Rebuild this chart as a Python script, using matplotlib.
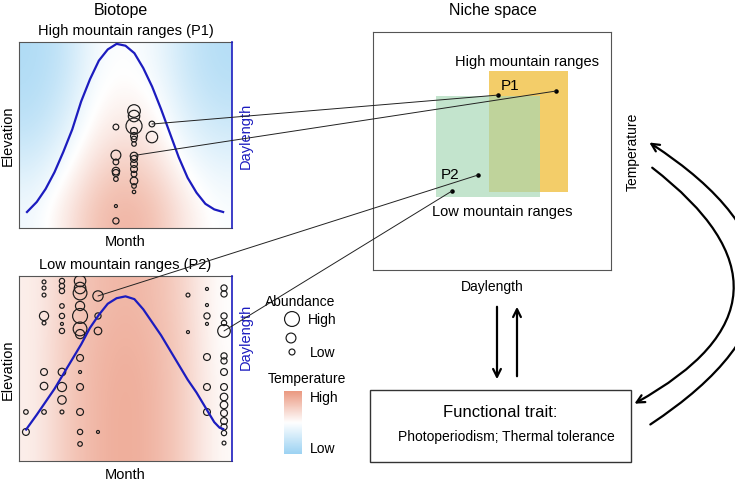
import matplotlib
matplotlib.use("Agg")
import matplotlib.pyplot as plt
import numpy as np
from matplotlib.colors import LinearSegmentedColormap
from matplotlib.patches import Rectangle, FancyArrowPatch, ConnectionPatch

plt.rcParams['font.family'] = ['Liberation Sans', 'DejaVu Sans']

# --------------------------------------------------------------------
# Data
# --------------------------------------------------------------------
# daylength curves: month -> relative daylength
HI_DAY_MONTH = [0.45, 1.0, 1.5, 2.0, 2.5, 3.0, 3.5, 4.0, 4.5, 5.0, 5.5, 6.0,
                6.5, 7.0, 7.5, 8.0, 8.5, 9.0, 9.5, 10.0, 10.5, 11.0, 11.5]
HI_DAY = [0.086, 0.14, 0.21, 0.30, 0.41, 0.53, 0.68, 0.80, 0.90, 0.96, 0.99, 0.98,
          0.94, 0.86, 0.76, 0.64, 0.51, 0.38, 0.27, 0.19, 0.13, 0.10, 0.086]
LO_DAY_MONTH = [0.4, 1.0, 1.5, 2.0, 2.5, 3.0, 3.5, 4.0, 4.5, 5.0, 5.5, 6.0,
                6.5, 7.0, 7.5, 8.0, 8.5, 9.0, 9.5, 10.0, 10.5, 11.0, 11.3, 11.5]
LO_DAY = [0.17, 0.25, 0.32, 0.39, 0.47, 0.55, 0.63, 0.72, 0.79, 0.85, 0.88, 0.89,
          0.875, 0.82, 0.75, 0.68, 0.60, 0.52, 0.44, 0.37, 0.29, 0.21, 0.18, 0.173]

# occurrences in high mountain ranges (P1): month, relative elevation, abundance
HI_MONTH = [5.46] * 8 + [6.48] * 15 + [7.49] * 2
HI_ELEV = [0.543, 0.392, 0.355, 0.306, 0.296, 0.263, 0.118, 0.038,
           0.629, 0.602, 0.548, 0.522, 0.495, 0.478, 0.452, 0.387, 0.371,
           0.344, 0.317, 0.290, 0.253, 0.226, 0.194,
           0.559, 0.489]
HI_ABUND = [2.5, 4.3, 2.5, 3.3, 3.0, 2.0, 1.3, 2.7,
            5.5, 5.0, 7.0, 3.0, 3.0, 2.5, 2.0, 3.3, 3.0,
            3.0, 3.0, 2.5, 3.3, 2.0, 1.5,
            2.5, 5.0]

# occurrences in low mountain ranges (P2)
LO_MONTH = ([0.39] * 2 + [1.41] * 8 + [2.42] * 11 + [3.44] * 13 + [4.45] * 4
            + [9.52] * 2 + [10.59] * 7 + [11.55] * 16)
LO_ELEV = [0.265, 0.157,
           0.968, 0.935, 0.897, 0.784, 0.746, 0.481, 0.405, 0.265,
           0.973, 0.946, 0.919, 0.838, 0.784, 0.741, 0.703, 0.481, 0.400, 0.330, 0.265,
           0.973, 0.935, 0.908, 0.838, 0.784, 0.714, 0.686, 0.557, 0.481, 0.400, 0.265, 0.157, 0.092,
           0.892, 0.784, 0.703, 0.157,
           0.897, 0.697,
           0.930, 0.843, 0.784, 0.741, 0.562, 0.400, 0.265,
           0.935, 0.903, 0.784, 0.746, 0.703, 0.568, 0.541, 0.481, 0.400, 0.346,
           0.303, 0.259, 0.216, 0.184, 0.151, 0.097]
LO_ABUND = [2.0, 3.0,
            1.7, 1.7, 1.7, 4.0, 1.7, 3.0, 3.3, 2.0,
            2.3, 2.3, 2.3, 2.0, 2.3, 1.3, 2.3, 3.3, 4.0, 3.7, 1.7,
            5.0, 5.0, 6.0, 4.0, 6.5, 6.0, 4.0, 3.0, 1.3, 3.0, 3.0, 2.3, 2.0,
            4.5, 2.7, 3.3, 1.3,
            1.7, 1.3,
            1.3, 1.3, 2.7, 1.3, 3.0, 3.0, 3.0,
            2.7, 2.7, 2.7, 2.3, 5.5, 2.7, 2.7, 3.0, 3.0, 3.3,
            3.3, 3.0, 3.0, 2.7, 2.3, 1.7]

# temperature background (rows: top -> bottom elevation, cols: month), -1 cold .. 1 warm
HI_TEMP = [[-0.80, -0.60, -0.10, 0.00, -0.15, -0.55, -0.75],
           [-0.75, -0.50, 0.00, 0.10, 0.00, -0.45, -0.65],
           [-0.60, -0.30, 0.15, 0.30, 0.15, -0.25, -0.45],
           [-0.35, -0.05, 0.40, 0.55, 0.40, 0.00, -0.20],
           [-0.15, 0.20, 0.60, 0.75, 0.60, 0.20, -0.05]]
LO_TEMP = [[0.15, 0.45, 0.65, 0.72, 0.65, 0.40, 0.00],
           [0.15, 0.50, 0.70, 0.78, 0.70, 0.45, 0.00],
           [0.15, 0.50, 0.72, 0.82, 0.72, 0.45, 0.05],
           [0.15, 0.50, 0.72, 0.82, 0.72, 0.45, 0.05]]

# niche boxes: daylength (lo, hi), temperature (lo, hi)
NICHE_HIGH = (0.487, 0.819, 0.328, 0.836)
NICHE_LOW = (0.265, 0.702, 0.307, 0.731)

# biotope point -> niche point
HI_LINKS = [((7.49, 0.559), (0.525, 0.735)), ((6.48, 0.39), (0.769, 0.752))]
LO_LINKS = [((4.45, 0.892), (0.441, 0.399)), ((11.55, 0.703), (0.332, 0.332))]

LEGEND_ABUND = [6.5, 4.3, 2.6]

# --------------------------------------------------------------------
# Style
# --------------------------------------------------------------------
W, H = 735, 481
BLUE = "#1c1cbf"
EDGE = "#555555"
ORANGE = "#f3cd69"
GREEN = "#a6d7b5"
TEMP_CMAP = LinearSegmentedColormap.from_list("temp", ["#9dd3f3", "#ffffff", "#eb9a82"])


def box(x, y, w, h):
    # pixel box (top-left origin) -> figure fraction
    return [x / W, 1 - (y + h) / H, w / W, h / H]


def msize(ab):
    return (1.65 * np.asarray(ab)) ** 2


def draw_biotope(ax, temp, day_m, day_v, occ_m, occ_e, occ_ab, title, ylab_y, hpx):
    ax.imshow(temp, extent=(0, 12, 0, 1), aspect="auto", cmap=TEMP_CMAP,
              vmin=-1, vmax=1, interpolation="bicubic")
    ax.scatter(occ_m, occ_e, s=msize(occ_ab), facecolors="none",
               edgecolors="#1a1a1a", linewidths=0.85, zorder=3)
    ax.set_xlim(0, 12)
    ax.set_ylim(0, 1)
    ax.set_xticks([])
    ax.set_yticks([])
    for s in ("left", "top", "bottom"):
        ax.spines[s].set_color(EDGE)
    ax.spines["right"].set_visible(False)

    ax.text(0.5, 1 + 12 / hpx, title, transform=ax.transAxes, ha="center",
            va="center", fontsize=10.5)
    ax.set_xlabel("Month", fontsize=10.5)
    ax.xaxis.set_label_coords(0.5, -13 / hpx)
    ax.xaxis.label.set_va("center")
    ax.set_ylabel("Elevation", fontsize=10.5)
    ax.yaxis.set_label_coords(-11 / 213, 0.5)
    ax.yaxis.label.set_va("center")

    day = ax.twinx()
    day.plot(day_m, day_v, color=BLUE, lw=1.6)
    day.set_ylim(0, 1)
    day.set_yticks([])
    day.spines["right"].set_color(BLUE)
    day.spines["right"].set_linewidth(1.2)
    for s in ("left", "top", "bottom"):
        day.spines[s].set_visible(False)
    day.set_ylabel("Daylength", color=BLUE, fontsize=10.5)
    day.yaxis.set_label_coords(1.065, ylab_y)
    day.yaxis.label.set_va("center")
    return day


fig = plt.figure(figsize=(W / 100, H / 100), dpi=100)

ax_hi = fig.add_axes(box(19, 43, 213, 186))
ax_lo = fig.add_axes(box(19, 277, 213, 185))
draw_biotope(ax_hi, HI_TEMP, HI_DAY_MONTH, HI_DAY, HI_MONTH, HI_ELEV, HI_ABUND,
             "High mountain ranges (P1)", 0.5, 186)
draw_biotope(ax_lo, LO_TEMP, LO_DAY_MONTH, LO_DAY, LO_MONTH, LO_ELEV, LO_ABUND,
             "Low mountain ranges (P2)", 0.676, 185)

fig.text(121 / W, 1 - 10 / H, "Biotope", ha="center", va="center", fontsize=11.5)
fig.text(493 / W, 1 - 10 / H, "Niche space", ha="center", va="center", fontsize=11.5)

# ---- niche space ----
ax_n = fig.add_axes(box(373, 33, 238, 238))
ax_n.set_xlim(0, 1)
ax_n.set_ylim(0, 1)
ax_n.set_xticks([])
ax_n.set_yticks([])
for s in ax_n.spines.values():
    s.set_color(EDGE)
ax_n.add_patch(Rectangle((NICHE_HIGH[0], NICHE_HIGH[2]), NICHE_HIGH[1] - NICHE_HIGH[0],
                         NICHE_HIGH[3] - NICHE_HIGH[2], fc=ORANGE, ec="none"))
ax_n.add_patch(Rectangle((NICHE_LOW[0], NICHE_LOW[2]), NICHE_LOW[1] - NICHE_LOW[0],
                         NICHE_LOW[3] - NICHE_LOW[2], fc=GREEN, ec="none", alpha=0.67))
ax_n.text(0.647, 0.878, "High mountain ranges", ha="center", va="center", fontsize=10.5)
ax_n.text(0.576, 0.777, "P1", ha="center", va="center", fontsize=11)
ax_n.text(0.324, 0.403, "P2", ha="center", va="center", fontsize=11)
ax_n.text(0.542, 0.248, "Low mountain ranges", ha="center", va="center", fontsize=10.5)
ax_n.set_xlabel("Daylength", fontsize=10)
ax_n.xaxis.set_label_coords(0.5, -16 / 238)
ax_n.xaxis.label.set_va("center")
ax_n.yaxis.set_label_position("right")
ax_n.set_ylabel("Temperature", fontsize=10)
ax_n.yaxis.set_label_coords(1 + 22 / 238, 0.5)
ax_n.yaxis.label.set_va("center")

dots = [b for _, b in HI_LINKS + LO_LINKS]
ax_n.scatter([d[0] for d in dots], [d[1] for d in dots], s=5, color="k", zorder=5)

for src_ax, links in ((ax_hi, HI_LINKS), (ax_lo, LO_LINKS)):
    for a, b in links:
        con = ConnectionPatch(xyA=a, coordsA="data", axesA=src_ax,
                              xyB=b, coordsB="data", axesB=ax_n,
                              color="#222222", lw=0.7)
        fig.add_artist(con)

# ---- temperature legend bar ----
cax = fig.add_axes(box(284, 392, 18, 63))
cax.imshow(np.linspace(1, -1, 64)[:, None], aspect="auto", cmap=TEMP_CMAP,
           vmin=-1, vmax=1, extent=(0, 1, 0, 1))
cax.axis("off")

# ---- overlay in pixel coordinates ----
ov = fig.add_axes([0, 0, 1, 1])
ov.set_xlim(0, W)
ov.set_ylim(H, 0)
ov.axis("off")

ov.text(300, 302, "Abundance", ha="center", va="center", fontsize=10)
ov.scatter([292, 291, 292], [320, 339, 353], s=msize(LEGEND_ABUND),
           facecolors="none", edgecolors="#1a1a1a", linewidths=0.85)
ov.text(308, 320, "High", ha="left", va="center", fontsize=10)
ov.text(310, 353, "Low", ha="left", va="center", fontsize=10)
ov.text(307, 379, "Temperature", ha="center", va="center", fontsize=10)
ov.text(310, 398, "High", ha="left", va="center", fontsize=10)
ov.text(310, 449, "Low", ha="left", va="center", fontsize=10)

ov.add_patch(Rectangle((370, 391), 261, 72, fc="white", ec="#333333", lw=1))
ov.text(500, 413, "Functional trait:", ha="center", va="center", fontsize=12)
ov.text(506, 437, "Photoperiodism; Thermal tolerance", ha="center", va="center", fontsize=10)

arrow_kw = dict(arrowstyle="->", lw=1.6, color="k", mutation_scale=14)
ov.annotate("", xy=(497, 383), xytext=(497, 305), arrowprops=arrow_kw)
ov.annotate("", xy=(517, 305), xytext=(517, 380), arrowprops=arrow_kw)
ov.add_patch(FancyArrowPatch((650, 167), (632, 406), connectionstyle="arc3,rad=-0.77",
                             arrowstyle="->", lw=1.6, color="k", mutation_scale=14))
ov.add_patch(FancyArrowPatch((648, 427), (647, 142), connectionstyle="arc3,rad=0.77",
                             arrowstyle="->", lw=1.6, color="k", mutation_scale=14))

fig.savefig("out.png", dpi=100)
